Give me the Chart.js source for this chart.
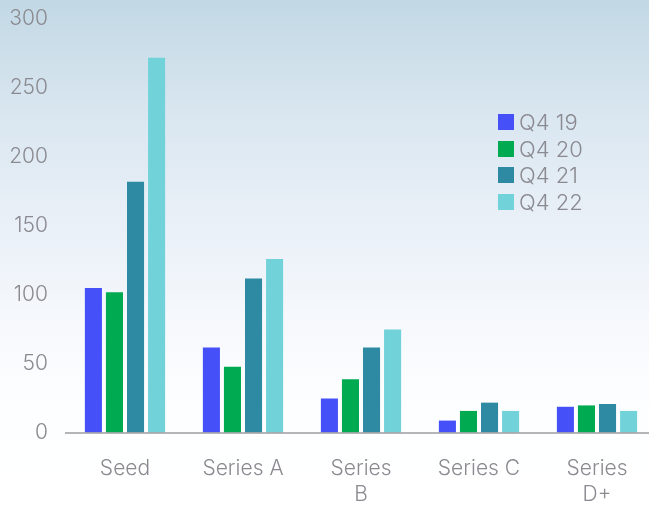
<!DOCTYPE html>
<html>
<head>
<meta charset="utf-8">
<script src="https://cdn.jsdelivr.net/npm/chart.js@4"></script>
<style>
  html, body { margin: 0; padding: 0; overflow: hidden; }
  body {
    width: 649px; height: 507px;
    background: linear-gradient(180deg, #c2d8e5 0%, #d9e6f0 22%, #e8eff7 42%, #f5f8fc 62%, #fdfeff 80%, #ffffff 100%);
    font-family: Inter, "Noto Sans", sans-serif;
  }
  #wrap { position: absolute; left: 0; top: 0; width: 656px; height: 507px; }
  #legend { position: absolute; left: 498px; top: 109px; }
  .item { display: flex; align-items: center; height: 26.6px; font-size: 22px; font-weight: 300; color: #8a8a90; }
  .box { width: 16px; height: 16px; margin-right: 5px; }
</style>
</head>
<body>
<div id="wrap"><canvas id="chart"></canvas></div>
<div id="legend"></div>
<script>
const categories = ["Seed", "Series A", ["Series", "B"], "Series C", ["Series", "D+"]];
const seriesNames = ["Q4 19", "Q4 20", "Q4 21", "Q4 22"];
const q419 = [105, 62, 25, 9, 19];
const q420 = [102, 48, 39, 16, 20];
const q421 = [182, 112, 62, 22, 21];
const q422 = [272, 126, 75, 16, 16];
const yTicks = [0, 50, 100, 150, 200, 250, 300];
const colors = ["#4650f8", "#00aa50", "#2e8aa3", "#72d2da"];

const values = [q419, q420, q421, q422];
const labelColor = "#8a8a90";

const datasets = seriesNames.map((name, i) => ({
  label: name,
  data: values[i],
  backgroundColor: colors[i],
  categoryPercentage: 0.714,
  barPercentage: 0.81
}));

new Chart(document.getElementById("chart"), {
  type: "bar",
  data: { labels: categories, datasets: datasets },
  options: {
    responsive: true,
    maintainAspectRatio: false,
    animation: false,
    layout: { padding: { top: 19, left: 0, right: 0, bottom: 0 } },
    plugins: { legend: { display: false }, tooltip: { enabled: false } },
    scales: {
      x: {
        grid: { display: false, drawTicks: false },
        border: { display: true, color: "rgba(168,168,172,0.85)", width: 2, z: 1 },
        ticks: {
          color: labelColor,
          padding: 23,
          maxRotation: 0,
          autoSkip: false,
          font: { family: "Inter", size: 21, weight: 300, lineHeight: 1.24 }
        },
        afterFit: s => { s.height = 74; }
      },
      y: {
        min: 0,
        max: 300,
        grid: { display: false, drawTicks: false },
        border: { display: false },
        afterBuildTicks: s => { s.ticks = yTicks.map(v => ({ value: v })); },
        ticks: {
          color: labelColor,
          padding: 18,
          font: { family: "Inter", size: 21, weight: 300 }
        },
        afterFit: s => {
          s.width = 66;
          s.paddingTop = 0;
          s.paddingBottom = 0;
        }
      }
    }
  }
});

// legend built from the same series names and colours
const legend = document.getElementById("legend");
seriesNames.forEach((name, i) => {
  const row = document.createElement("div");
  row.className = "item";
  row.innerHTML = `<span class="box" style="background:${colors[i]}"></span>${name}`;
  legend.appendChild(row);
});
</script>
</body>
</html>
